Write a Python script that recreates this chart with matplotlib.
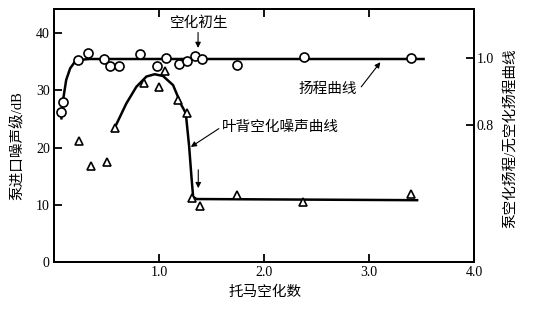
import matplotlib

matplotlib.use("Agg")
import matplotlib.pyplot as plt

plt.rcParams["font.family"] = ["Liberation Serif", "Noto Sans CJK SC"]
plt.rcParams["axes.unicode_minus"] = False

# 扬程比 (right axis): measured points and the fitted curve
head_sigma = [0.071, 0.083, 0.233, 0.326, 0.475, 0.529, 0.615, 0.816, 0.985,
              1.067, 1.188, 1.267, 1.341, 1.411, 1.739, 2.385, 3.404]
head_ratio = [0.840, 0.868, 0.995, 1.015, 0.998, 0.978, 0.977, 1.013, 0.977,
              1.000, 0.982, 0.993, 1.007, 0.998, 0.981, 1.005, 1.002]
head_curve_x = [0.071, 0.083, 0.116, 0.154, 0.195, 0.233, 0.338, 3.52]
head_curve_y = [0.820, 0.868, 0.935, 0.970, 0.988, 0.995, 0.998, 0.998]

# 叶背空化噪声 (left axis, dB): measured points and the fitted curve
noise_sigma = [0.236, 0.357, 0.507, 0.577, 0.857, 1.004, 1.057, 1.179, 1.262,
               1.315, 1.386, 1.739, 2.370, 3.404]
noise_db = [21.2, 16.7, 17.5, 23.4, 31.3, 30.5, 33.4, 28.3, 26.1,
            11.2, 9.7, 11.7, 10.4, 11.8]
noise_curve_x = [0.577, 0.689, 0.784, 0.880, 0.959, 1.038, 1.134, 1.214,
                 1.255, 1.287, 1.309, 1.325, 1.357, 3.458]
noise_curve_y = [23.4, 27.7, 30.6, 32.4, 32.8, 32.5, 30.9, 27.4,
                 26.0, 20.2, 14.9, 11.4, 11.0, 10.8]

x_ticks = [1.0, 2.0, 3.0, 4.0]
x_ticklabels = ["1.0", "2.0", "3.0", "4.0"]
left_ticks = [0, 10, 20, 30, 40]
right_ticks = [0.8, 1.0]

fig = plt.figure(figsize=(5.35, 3.13), dpi=100)
ax = fig.add_axes([54 / 535, 51 / 313, 420 / 535, 253 / 313])
ax2 = ax.twinx()

ax.set_xlim(0, 4.0)
ax.set_ylim(0, 44.2)
ax2.set_ylim(0.389, 1.148)

for a in (ax, ax2):
    for s in a.spines.values():
        s.set_linewidth(1.4)
    a.set_facecolor("none")

ax.set_xticks(x_ticks)
ax.set_xticklabels(x_ticklabels)
ax.set_yticks(left_ticks)
ax.tick_params(axis="both", direction="in", length=6, width=1.3,
               labelsize=10, pad=4, top=True)
ax.tick_params(axis="y", pad=3)
ax.tick_params(axis="x", pad=3)
# no top tick at 4.0 (it sits on the corner anyway)
ax2.set_yticks(right_ticks)
ax2.set_yticklabels(["0.8", "1.0"])
ax2.tick_params(axis="y", direction="in", length=6, width=1.3,
                labelsize=10, pad=2)

ax.plot(noise_curve_x, noise_curve_y, color="black", lw=1.8, zorder=2)
ax.plot(noise_sigma, noise_db, linestyle="none", marker="^", markersize=6,
        markerfacecolor="white", markeredgecolor="black", mew=1.2, zorder=3)

ax2.plot(head_curve_x, head_curve_y, color="black", lw=1.8, zorder=2)
ax2.plot(head_sigma, head_ratio, linestyle="none", marker="o", markersize=6.5,
         markerfacecolor="white", markeredgecolor="black", mew=1.2, zorder=3)

arrow = dict(arrowstyle="-|>", lw=0.8, color="black", mutation_scale=8,
             shrinkA=0, shrinkB=0)
ax.annotate("空化初生", xy=(1.372, 37.4), xytext=(1.379, 41.8),
            ha="center", va="center", fontsize=10.5)
ax.annotate("", xy=(1.372, 37.4), xytext=(1.372, 40.1), arrowprops=arrow)
ax.annotate("扬程曲线", xy=(3.108, 34.9), xytext=(2.611, 30.2),
            ha="center", va="center", fontsize=10.5)
ax.annotate("", xy=(3.108, 34.9), xytext=(2.926, 30.6), arrowprops=arrow)
ax.annotate("叶背空化噪声曲线", xy=(1.303, 20.1), xytext=(1.599, 23.5),
            ha="left", va="center", fontsize=10.5)
ax.annotate("", xy=(1.303, 20.1), xytext=(1.570, 23.3), arrowprops=arrow)
ax.annotate("", xy=(1.374, 12.9), xytext=(1.374, 16.1), arrowprops=arrow)

ax.set_xlabel("托马空化数", fontsize=10.5)
ax.xaxis.set_label_coords(0.502, -0.095)
ax.set_ylabel("泵进口噪声级/dB", fontsize=10.5)
ax.yaxis.set_label_coords(-0.069, 0.462)
ax2.set_ylabel("泵空化扬程/无空化扬程曲线", fontsize=10.5)
ax2.yaxis.set_label_coords(1.069, 0.49)

fig.savefig("out.png", dpi=100)
